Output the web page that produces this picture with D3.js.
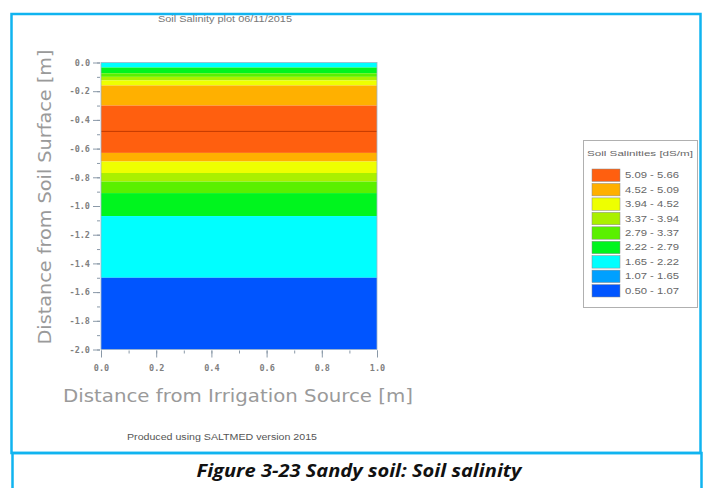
<!DOCTYPE html>
<html>
<head>
<meta charset="utf-8">
<script src="https://cdn.jsdelivr.net/npm/d3@7"></script>
<style>
  html, body { margin: 0; padding: 0; background: #fff; }
  svg { display: block; }
</style>
</head>
<body>
<svg id="chart" width="705" height="488"></svg>
<script>
// Salinity classes (dS/m), listed from lowest to highest
const classLow  = [0.50, 1.07, 1.65, 2.22, 2.79, 3.37, 3.94, 4.52, 5.09];
const classHigh = [1.07, 1.65, 2.22, 2.79, 3.37, 3.94, 4.52, 5.09, 5.66];
const classColors = ["#0055ff", "#00a0ff", "#00ffff", "#00f51e", "#5af000",
                     "#aaf000", "#eeff00", "#ffb000", "#ff5f0f"];

// Soil layers: depth range (m below surface) and the salinity class of each
const layerTop    = [0.000, 0.035, 0.075, 0.100, 0.125, 0.160, 0.300, 0.630, 0.690, 0.770, 0.830, 0.910, 1.070, 1.500];
const layerBottom = [0.035, 0.075, 0.100, 0.125, 0.160, 0.300, 0.630, 0.690, 0.770, 0.830, 0.910, 1.070, 1.500, 2.000];
const layerClass  = [2, 3, 4, 5, 6, 7, 8, 7, 6, 5, 4, 3, 2, 0];

// Contour line inside the top salinity class
const contourDepth = 0.48;

const xTicks = [0.0, 0.2, 0.4, 0.6, 0.8, 1.0];
const yTicks = [0.0, -0.2, -0.4, -0.6, -0.8, -1.0, -1.2, -1.4, -1.6, -1.8, -2.0];
const xMinor = d3.range(0, 11).map(i => i / 10);
const yMinor = d3.range(0, 21).map(i => -i / 10);

const svg = d3.select("#chart");

// Figure frame and caption box
const frameColor = "#10b4f0";
svg.append("rect").attr("x", 11.5).attr("y", 14).attr("width", 689).attr("height", 439)
  .attr("fill", "none").attr("stroke", frameColor).attr("stroke-width", 2.5);
svg.append("rect").attr("x", 12.5).attr("y", 453).attr("width", 689).attr("height", 45)
  .attr("fill", "none").attr("stroke", frameColor).attr("stroke-width", 2.5);

svg.append("text")
  .attr("x", 359).attr("y", 477)
  .attr("text-anchor", "middle")
  .attr("font-family", "'Open Sans', 'Liberation Sans', sans-serif")
  .attr("font-style", "italic").attr("font-weight", "bold")
  .attr("font-size", 18).attr("fill", "#111")
  .attr("textLength", 325).attr("lengthAdjust", "spacingAndGlyphs")
  .text("Figure 3-23 Sandy soil: Soil salinity");

// Plot area
const plotLeft = 101, plotRight = 377, plotTop = 62.5, plotBottom = 349.5;
const x = d3.scaleLinear().domain([0, 1]).range([plotLeft, plotRight]);
const y = d3.scaleLinear().domain([0, -2]).range([plotTop, plotBottom]);

svg.append("text")
  .attr("x", 225).attr("y", 22).attr("text-anchor", "middle")
  .attr("font-family", "'Liberation Sans', sans-serif").attr("font-size", 8.5)
  .attr("fill", "#777")
  .attr("textLength", 134).attr("lengthAdjust", "spacingAndGlyphs")
  .text("Soil Salinity plot 06/11/2015");

const layers = layerTop.map((t, i) => ({ top: t, bottom: layerBottom[i], cls: layerClass[i] }));
svg.append("g").selectAll("rect").data(layers).join("rect")
  .attr("x", x(0)).attr("width", x(1) - x(0))
  .attr("y", d => y(-d.top))
  .attr("height", d => y(-d.bottom) - y(-d.top))
  .attr("fill", d => classColors[d.cls]);

svg.append("line")
  .attr("x1", x(0)).attr("x2", x(1))
  .attr("y1", y(-contourDepth)).attr("y2", y(-contourDepth))
  .attr("stroke", "#c23a00").attr("stroke-width", 1);

svg.append("rect")
  .attr("x", x(0)).attr("y", y(0)).attr("width", x(1) - x(0)).attr("height", y(-2) - y(0))
  .attr("fill", "none").attr("stroke", "#9fb3c8").attr("stroke-width", 0.8);

// Axes
const axisColor = "#8a99a8";
const labelColor = "#808080";
const monoFont = "'DejaVu Sans Mono', monospace";

const yAxis = svg.append("g").attr("transform", `translate(${plotLeft - 1},0)`)
  .call(d3.axisLeft(y).tickValues(yTicks).tickFormat(d3.format(".1f")).tickSize(7).tickPadding(3));
const yMinorAxis = svg.append("g").attr("transform", `translate(${plotLeft - 1},0)`)
  .call(d3.axisLeft(y).tickValues(yMinor).tickFormat("").tickSize(3));

const xAxis = svg.append("g").attr("transform", `translate(0,${plotBottom + 1})`)
  .call(d3.axisBottom(x).tickValues(xTicks).tickFormat(d3.format(".1f")).tickSize(7).tickPadding(7));
const xMinorAxis = svg.append("g").attr("transform", `translate(0,${plotBottom + 1})`)
  .call(d3.axisBottom(x).tickValues(xMinor).tickFormat("").tickSize(3));

[yAxis, yMinorAxis, xAxis, xMinorAxis].forEach(g => {
  g.select(".domain").remove();
  g.selectAll("line").attr("stroke", axisColor).attr("stroke-width", 1);
  g.selectAll("text").attr("font-family", monoFont).attr("font-size", 8.5)
    .attr("font-weight", "bold").attr("fill", labelColor);
});
yAxis.selectAll("text").text(d => d3.format(".1f")(d).replace("−", "-"));

svg.append("text")
  .attr("x", 238).attr("y", 402).attr("text-anchor", "middle")
  .attr("font-family", "'DejaVu Sans', sans-serif").attr("font-size", 18)
  .attr("fill", "#9a9a9a")
  .attr("textLength", 350).attr("lengthAdjust", "spacingAndGlyphs")
  .text("Distance from Irrigation Source [m]");

svg.append("text")
  .attr("transform", `translate(51,197) rotate(-90)`)
  .attr("text-anchor", "middle")
  .attr("font-family", "'DejaVu Sans', sans-serif").attr("font-size", 18)
  .attr("fill", "#9a9a9a")
  .attr("textLength", 295).attr("lengthAdjust", "spacingAndGlyphs")
  .text("Distance from Soil Surface [m]");

svg.append("text")
  .attr("x", 222).attr("y", 440).attr("text-anchor", "middle")
  .attr("font-family", "'Liberation Sans', sans-serif").attr("font-size", 8.5)
  .attr("fill", "#555")
  .attr("textLength", 190).attr("lengthAdjust", "spacingAndGlyphs")
  .text("Produced using SALTMED version 2015");

// Legend, highest class on top
const legend = svg.append("g");
legend.append("rect").attr("x", 583.5).attr("y", 140.5).attr("width", 114).attr("height", 167)
  .attr("fill", "#fff").attr("stroke", "#b0b0b0").attr("stroke-width", 1);
legend.append("text")
  .attr("x", 640).attr("y", 156).attr("text-anchor", "middle")
  .attr("font-family", "'Liberation Sans', sans-serif").attr("font-size", 8)
  .attr("fill", "#666")
  .attr("textLength", 106).attr("lengthAdjust", "spacingAndGlyphs")
  .text("Soil Salinities [dS/m]");

const legendItems = d3.range(classLow.length).reverse();
const rowY = d3.scaleBand().domain(legendItems).range([169, 297]).paddingInner(0.14);
const rows = legend.selectAll("g.row").data(legendItems).join("g").attr("class", "row");
rows.append("rect")
  .attr("x", 592).attr("y", d => rowY(d))
  .attr("width", 28).attr("height", rowY.bandwidth())
  .attr("fill", d => classColors[d]).attr("stroke", "#888").attr("stroke-width", 0.5);
rows.append("text")
  .attr("x", 625).attr("y", d => rowY(d) + rowY.bandwidth() / 2 + 3)
  .attr("font-family", "'Liberation Sans', sans-serif").attr("font-size", 8.5)
  .attr("fill", "#666")
  .attr("textLength", 54).attr("lengthAdjust", "spacingAndGlyphs")
  .text(d => `${classLow[d].toFixed(2)} - ${classHigh[d].toFixed(2)}`);
</script>
</body>
</html>
